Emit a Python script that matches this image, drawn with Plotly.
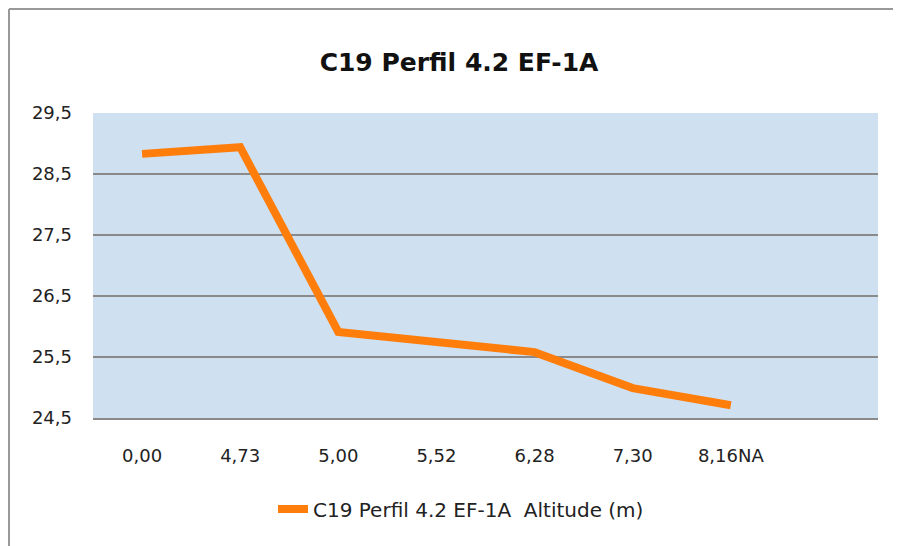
import plotly.graph_objects as go

# distance labels along the profile (last slot is an empty category)
x_labels = ["0,00", "4,73", "5,00", "5,52", "6,28", "7,30", "8,16NA", " "]
# altitude in metres
altitude = [28.83, 28.94, 25.91, 25.73, 25.58, 24.99, 24.71]

y_ticks = [24.5, 25.5, 26.5, 27.5, 28.5, 29.5]
y_tick_text = ["24,5", "25,5", "26,5", "27,5", "28,5", "29,5"]

fig = go.Figure()
fig.add_trace(go.Scatter(
    x=x_labels[:len(altitude)],
    y=altitude,
    mode="lines",
    name="C19 Perfil 4.2 EF-1A  Altitude (m)",
    line=dict(color="#ff7d0a", width=8),
))

# page body has an 8px margin, so figure is 8px smaller than the window
W, H = 893, 538
L, R, T, B = 85, 23, 105, 128
pw, ph = W - L - R, H - T - B

fig.update_layout(
    width=W, height=H,
    margin=dict(l=L, r=R, t=T, b=B),
    paper_bgcolor="white",
    plot_bgcolor="#cfe0f1",
    font=dict(family="DejaVu Sans", color="#222222", size=18),
    title=dict(text="<b>C19 Perfil 4.2 EF-1A</b>", x=451 / W, xanchor="center",
               y=1 - 54 / H, yanchor="middle", font=dict(size=25, color="#111111")),
    showlegend=True,
    legend=dict(orientation="h", x=(453 - L) / pw, xanchor="center", y=-91 / ph, yanchor="middle",
                font=dict(size=20)),
)

fig.update_xaxes(
    type="category",
    categoryorder="array",
    categoryarray=x_labels,
    range=[-0.5, len(x_labels) - 0.5],
    showgrid=False,
    showline=True, linecolor="#8a8a8a", linewidth=2,
    ticks="", ticklabelstandoff=20,
)
fig.update_yaxes(
    range=[24.5, 29.5],
    tickvals=y_ticks,
    ticktext=y_tick_text,
    showgrid=True, gridcolor="#8a8a8a", gridwidth=2,
    zeroline=False,
    ticks="", ticklabelstandoff=20,
)

# outer chart frame (only top and left edges are visible)
fig.add_shape(type="line", xref="paper", yref="paper",
              x0=-(L - 1) / pw, x1=1 + R / pw, y0=1 + (T - 1) / ph, y1=1 + (T - 1) / ph,
              line=dict(color="#999999", width=2))
fig.add_shape(type="line", xref="paper", yref="paper",
              x0=-(L - 1) / pw, x1=-(L - 1) / pw, y0=-B / ph, y1=1 + (T - 1) / ph,
              line=dict(color="#999999", width=2))

fig.write_html("out.html")
